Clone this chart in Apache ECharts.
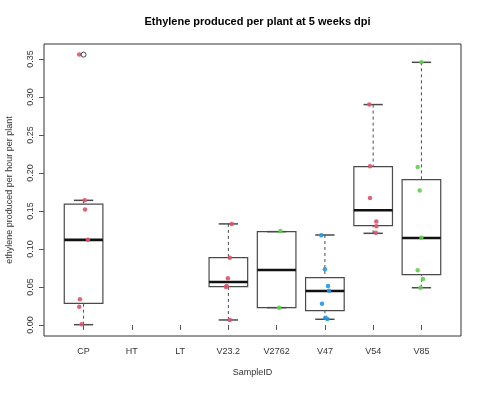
<!DOCTYPE html>
<html>
<head>
<meta charset="utf-8">
<script src="https://cdn.jsdelivr.net/npm/echarts@6/dist/echarts.min.js"></script>
<style>html,body{margin:0;padding:0;background:#fff}#c{width:485px;height:393px}</style>
</head>
<body>
<div id="c"></div>
<script>
// ---- data ----
const categories = ['CP', 'HT', 'LT', 'V23.2', 'V2762', 'V47', 'V54', 'V85'];
const yTicks = [0, 0.05, 0.10, 0.15, 0.20, 0.25, 0.30, 0.35];
// box stats: [categoryIndex(1-based), lowerWhisker, Q1, median, Q3, upperWhisker]
const boxStats = [
  [1, 0.0004, 0.0285, 0.112, 0.159, 0.164],
  [4, 0.0066, 0.0504, 0.0566, 0.0886, 0.133],
  [5, 0.0228, 0.0228, 0.0724, 0.1228, 0.1228],
  [6, 0.0075, 0.0188, 0.0447, 0.0623, 0.1184],
  [7, 0.1206, 0.1307, 0.1509, 0.2083, 0.290],
  [8, 0.049, 0.0662, 0.1145, 0.1912, 0.3456]
];
const outliers = [[1, 0.3557]];
// jittered observations: values and horizontal jitter (category units)
const cpVals = [0.356, 0.164, 0.152, 0.112, 0.034, 0.024, 0.001];
const cpJit  = [-0.09, 0.023, 0.03, 0.09, -0.075, -0.09, -0.04];
const v232Vals = [0.133, 0.0886, 0.0614, 0.0513, 0.050, 0.0066];
const v232Jit  = [0.07, 0.03, -0.01, -0.035, -0.05, 0.03];
const v2762Vals = [0.1237, 0.0228];
const v2762Jit  = [0.077, 0.05];
const v47Vals = [0.118, 0.0733, 0.0513, 0.0451, 0.028, 0.0096, 0.0079];
const v47Jit  = [-0.075, 0, 0.065, 0.085, -0.06, 0.01, 0.05];
const v54Vals = [0.290, 0.209, 0.167, 0.136, 0.130, 0.1215];
const v54Jit  = [-0.08, -0.065, -0.065, 0.065, 0.065, 0.055];
const v85Vals = [0.3456, 0.208, 0.1768, 0.1149, 0.072, 0.0605, 0.049];
const v85Jit  = [0, -0.077, -0.035, 0, -0.077, 0.033, -0.02];

function pts(cat, vals, jit) { return vals.map((v, i) => [cat + jit[i], v]); }
const redPts = pts(1, cpVals, cpJit).concat(pts(4, v232Vals, v232Jit), pts(7, v54Vals, v54Jit));
const greenPts = pts(5, v2762Vals, v2762Jit).concat(pts(8, v85Vals, v85Jit));
const bluePts = pts(6, v47Vals, v47Jit);

const FONT = 'Liberation Sans, Arial, sans-serif';
const chart = echarts.init(document.getElementById('c'), null, {renderer: 'canvas'});

function renderBox(params, api) {
  const x = api.value(0);
  const lo = api.value(1), q1 = api.value(2), med = api.value(3), q3 = api.value(4), hi = api.value(5);
  const pL = api.coord([x - 0.4, q1]), pR = api.coord([x + 0.4, q3]);
  const cL = api.coord([x - 0.2, lo]), cR = api.coord([x + 0.2, hi]);
  const pc = api.coord([x, med]);
  const pLo = api.coord([x, lo]), pHi = api.coord([x, hi]);
  const pQ1 = api.coord([x, q1]), pQ3 = api.coord([x, q3]);
  const mL = api.coord([x - 0.4, med]), mR = api.coord([x + 0.4, med]);
  const line = '#4a4a4a';
  return {
    type: 'group',
    children: [
      {type: 'line', shape: {x1: pHi[0], y1: pHi[1], x2: pQ3[0], y2: pQ3[1]}, style: {stroke: line, lineWidth: 1, lineDash: [3, 3]}},
      {type: 'line', shape: {x1: pLo[0], y1: pLo[1], x2: pQ1[0], y2: pQ1[1]}, style: {stroke: line, lineWidth: 1, lineDash: [3, 3]}},
      {type: 'line', shape: {x1: cL[0], y1: cR[1], x2: cR[0], y2: cR[1]}, style: {stroke: line, lineWidth: 1.5}},
      {type: 'line', shape: {x1: cL[0], y1: cL[1], x2: cR[0], y2: cL[1]}, style: {stroke: line, lineWidth: 1.5}},
      {type: 'rect', shape: {x: pL[0], y: pR[1], width: pR[0] - pL[0], height: pL[1] - pR[1]}, style: {fill: 'none', stroke: line, lineWidth: 1.2}},
      {type: 'line', shape: {x1: mL[0], y1: pc[1], x2: mR[0], y2: pc[1]}, style: {stroke: '#111', lineWidth: 2.6}}
    ]
  };
}

chart.setOption({
  animation: false,
  backgroundColor: '#fff',
  title: {
    text: 'Ethylene produced per plant at 5 weeks dpi',
    left: 252.5, textAlign: 'center', top: 11,
    textStyle: {fontFamily: FONT, fontSize: 11, fontWeight: 'bold', color: '#000'}
  },
  grid: {left: 44, right: 24, top: 44, bottom: 57, containLabel: false, outerBoundsMode: 'none',
    show: true, borderColor: '#333', borderWidth: 1, backgroundColor: 'transparent'},
  xAxis: {
    type: 'value', min: 0.18, max: 8.82,
    name: 'SampleID', nameLocation: 'middle', nameGap: 32,
    nameTextStyle: {fontFamily: FONT, fontSize: 9, color: '#333'},
    axisLine: {show: false},
    splitLine: {show: false},
    axisTick: {show: true, length: 5, lineStyle: {color: '#555'}, customValues: [1, 2, 3, 4, 5, 6, 7, 8]},
    axisLabel: {
      customValues: [1, 2, 3, 4, 5, 6, 7, 8], margin: 11,
      fontFamily: FONT, fontSize: 9, color: '#333',
      formatter: v => categories[Math.round(v) - 1] || ''
    }
  },
  yAxis: {
    type: 'value', min: -0.0145, max: 0.3697,
    name: 'ethylene produced per hour per plant', nameLocation: 'middle', nameGap: 30,
    nameTextStyle: {fontFamily: FONT, fontSize: 9, color: '#333'},
    axisLine: {show: false},
    splitLine: {show: false},
    axisTick: {show: true, length: 5, lineStyle: {color: '#555'}, customValues: yTicks},
    axisLabel: {
      customValues: yTicks, rotate: 90, margin: 9,
      fontFamily: FONT, fontSize: 9, color: '#333',
      formatter: v => v.toFixed(2)
    }
  },
  series: [
    {type: 'custom', renderItem: renderBox, data: boxStats, z: 2, silent: true},
    {type: 'scatter', data: redPts, symbol: 'circle', symbolSize: 4.5, itemStyle: {color: '#DF536B', opacity: 0.9}, z: 4},
    {type: 'scatter', data: greenPts, symbol: 'circle', symbolSize: 4.5, itemStyle: {color: '#61D04F', opacity: 0.9}, z: 4},
    {type: 'scatter', data: bluePts, symbol: 'circle', symbolSize: 4.5, itemStyle: {color: '#2297E6', opacity: 0.9}, z: 4},
    {type: 'scatter', data: outliers, symbol: 'circle', symbolSize: 5,
      itemStyle: {color: 'rgba(255,255,255,0)', borderColor: '#222', borderWidth: 1}, z: 5}
  ]
});
</script>
</body>
</html>
